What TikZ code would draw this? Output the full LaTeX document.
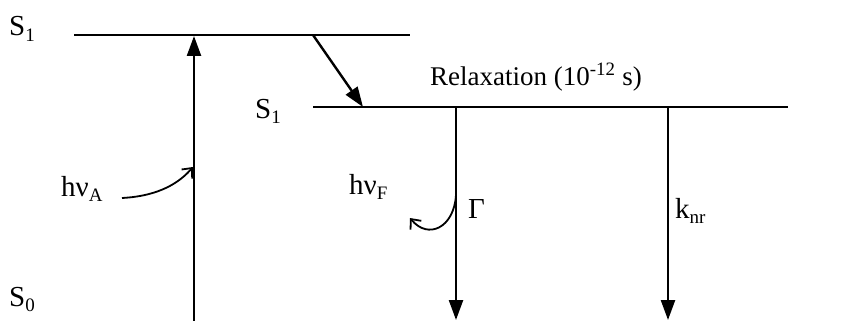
\documentclass[tikz,border=0pt]{standalone}
\usepackage{fontspec}
\setmainfont{Liberation Serif}
\usetikzlibrary{arrows.meta}
\newcommand\lowsub[1]{\raisebox{-0.45ex}{\fontsize{19}{20}\selectfont #1}}
\begin{document}
\begin{tikzpicture}[x=1pt,y=-1pt,
  level/.style={line width=2.4pt},
  trans/.style={line width=2.4pt,-{Triangle[length=20pt,width=14pt]}},
  photon/.style={line width=1.8pt,-{Straight Barb[length=8pt,width=14pt,line width=1.8pt]}},
  lab/.style={font=\fontsize{29}{32}\selectfont,inner sep=0pt},
  big/.style={font=\fontsize{27}{30}\selectfont,inner sep=0pt}]
\useasboundingbox (0,0) rectangle (848,321);
% levels
\coordinate (s1aL) at (74,35);
\coordinate (s1aR) at (410,35);
\coordinate (s1bL) at (313,107);
\coordinate (s1bR) at (788,107);
\draw[level] (s1aL) -- (s1aR);
\draw[level] (s1bL) -- (s1bR);
% labels
\node[lab,anchor=base west] (lS1a) at (9,36) {S\lowsub{1}};
\node[lab,anchor=base west] (lS1b) at (255,118) {S\lowsub{1}};
\node[lab,anchor=base west] (lS0) at (9,306) {S\lowsub{0}};
\node[big,anchor=base] (relax) at (536,85) {Relaxation (10\textsuperscript{-12} s)};
\node[lab,anchor=base west] (hA) at (61,196) {hν\lowsub{A}};
\node[lab,anchor=base west] (hF) at (349,194) {hν\lowsub{F}};
\node[lab,anchor=base west] (G) at (468,218) {Γ};
\node[lab,anchor=base west] (knr) at (675,218) {k\lowsub{nr}};
% absorption
\coordinate (absB) at (194,321);
\coordinate (absT) at (194,36);
\draw[trans] (absB) -- (absT);
% relaxation
\coordinate (rxA) at (313,35);
\coordinate (rxB) at (363,107);
\draw[trans] (rxA) -- (rxB);
% emission
\coordinate (fT) at (456,107);
\coordinate (fB) at (456,320);
\draw[trans] (fT) -- (fB);
\coordinate (nT) at (668,107);
\coordinate (nB) at (668,320);
\draw[trans] (nT) -- (nB);
% photons
\coordinate (pa0) at (122,198);
\coordinate (pa1) at (193,167);
\draw[photon] (pa0) .. controls (160,196) and (180,182) .. (pa1);
\coordinate (pf0) at (456,195);
\coordinate (pf1) at (410,218);
\draw[photon] (pf0) .. controls (454,228) and (428,240) .. (pf1);
\end{tikzpicture}
\end{document}
